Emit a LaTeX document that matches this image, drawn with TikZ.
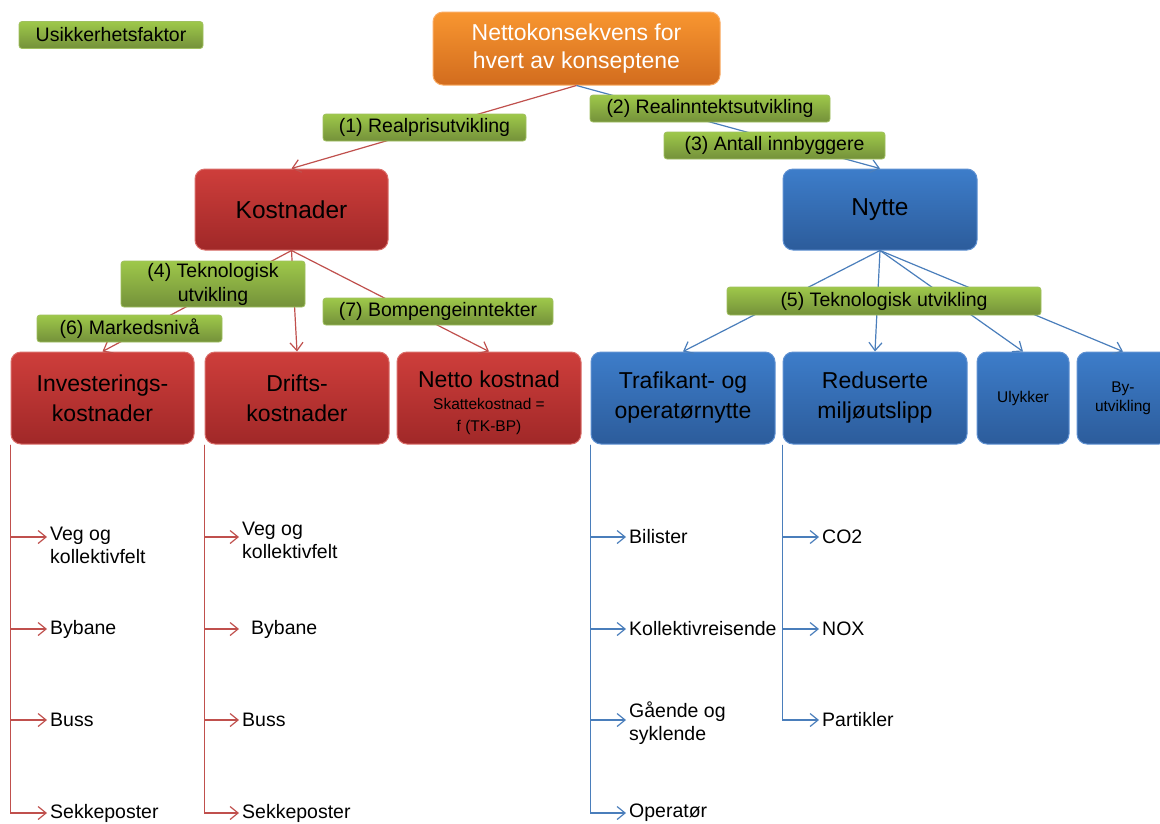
\documentclass[tikz,border=0pt]{standalone}
\usepackage{fontspec}
\setmainfont{Liberation Sans}
\usetikzlibrary{arrows.meta,calc}
\definecolor{gtop}{RGB}{158,200,74}
\definecolor{gbot}{RGB}{116,145,58}
\definecolor{gline}{RGB}{160,192,95}
\definecolor{rtop}{RGB}{206,62,59}
\definecolor{rbot}{RGB}{160,40,40}
\definecolor{rline}{RGB}{192,80,77}
\definecolor{rbord}{RGB}{218,110,106}
\definecolor{btop}{RGB}{61,125,202}
\definecolor{bbot}{RGB}{44,92,155}
\definecolor{bline}{RGB}{74,126,187}
\definecolor{bbord}{RGB}{95,145,210}
\definecolor{otop}{RGB}{248,150,48}
\definecolor{obot}{RGB}{210,108,30}
\definecolor{obord}{RGB}{250,172,100}
\begin{document}
\begin{tikzpicture}[x=1pt,y=-1pt,
  box/.style={rounded corners=10pt, line width=1pt, inner sep=0pt, align=center},
  redbox/.style={box, draw=rbord, top color=rtop, bottom color=rbot, minimum width=184pt, minimum height=92pt, font=\fontsize{23}{30}\selectfont},
  bluebox/.style={box, draw=bbord, top color=btop, bottom color=bbot, minimum width=184pt, minimum height=92pt, font=\fontsize{23}{30}\selectfont},
  smallblue/.style={bluebox, minimum width=92pt, font=\fontsize{15.5}{19}\selectfont},
  lab/.style={rounded corners=3pt, draw=gline, line width=0.8pt, top color=gtop, bottom color=gbot, inner sep=0pt, align=center, minimum height=27pt, font=\fontsize{19.5}{24}\selectfont},
  leaf/.style={anchor=west, inner xsep=3pt, inner ysep=0pt, align=left, font=\fontsize{19.5}{23}\selectfont},
  rl/.style={draw=rline, line width=1.2pt, -{Straight Barb[length=8pt,width=13pt]}},
  bl/.style={draw=bline, line width=1.2pt, -{Straight Barb[length=8pt,width=13pt]}}
]
\useasboundingbox (0,0) rectangle (1160,823);
\fill[white] (0,0) rectangle (1160,823);

% main boxes
\node[box, draw=obord, top color=otop, bottom color=obot, minimum width=287pt, minimum height=73pt, text=white, font=\fontsize{23}{28}\selectfont] (root) at (576.5,48.5) {Nettokonsekvens for\\hvert av konseptene};
\node[redbox, minimum width=193pt, minimum height=81pt, font=\fontsize{24.5}{30}\selectfont] (kost) at (291.5,209.5) {Kostnader};
\node[bluebox, minimum width=194pt, minimum height=81pt, font=\fontsize{24.5}{30}\selectfont] (nytte) at (880,209.5) {Nytte};

\node[redbox, minimum width=183pt] (inv) at (102.5,398) {Investerings-\\kostnader};
\node[redbox] (drift) at (297,398) {Drifts-\\kostnader};
\node[redbox] (netto) at (489,398) {\mbox{}\\[-4pt]Netto kostnad\\[-8pt]{\fontsize{15.5}{18}\selectfont Skattekostnad =}\\[-8pt]{\fontsize{15.5}{18}\selectfont f (TK-BP)}};
\node[bluebox] (traf) at (683,398) {Trafikant- og\\operatørnytte};
\node[bluebox] (redu) at (875,398) {Reduserte\\miljøutslipp};
\node[smallblue] (ulyk) at (1023,398) {Ulykker};
\node[smallblue] (byut) at (1123,398) {By-\\utvikling};

% connectors top
\draw[rl] (root.south) -- (kost.north);
\draw[bl] (root.south) -- (nytte.north);
\draw[rl] (kost.south) -- (inv.north);
\draw[rl] (kost.south) -- (drift.north);
\draw[rl] (kost.south) -- (netto.north);
\draw[bl] (nytte.south) -- (traf.north);
\draw[bl] (nytte.south) -- (redu.north);
\draw[bl] (nytte.south) -- (ulyk.north);
\draw[bl] (nytte.south) -- (byut.north);

% labels
\node[lab, minimum width=184pt] (usik) at (111,35) {Usikkerhetsfaktor};
\node[lab, minimum width=203pt] (l1) at (424.5,127.5) {(1) Realprisutvikling};
\node[lab, minimum width=240pt] (l2) at (710,108.5) {(2) Realinntektsutvikling};
\node[lab, minimum width=221pt] (l3) at (774.5,145.5) {(3) Antall innbyggere};
\node[lab, minimum width=184pt, minimum height=46pt] (l4) at (213,284) {(4) Teknologisk\\utvikling};
\node[lab, minimum width=185pt] (l6) at (129.5,328.5) {(6) Markedsnivå};
\node[lab, minimum width=230pt] (l7) at (438,311.5) {(7) Bompengeinntekter};
\node[lab, minimum width=314pt, minimum height=28pt] (l5) at (884,301) {(5) Teknologisk utvikling};

% leaves: Investeringskostnader
\node[leaf] (i1) at (47,545) {Veg og\\kollektivfelt};
\node[leaf] (i2) at (47,629) {Bybane};
\node[leaf] (i3) at (47,720) {Buss};
\node[leaf] (i4) at (47,813) {Sekkeposter};
\draw[rl] (inv.south west) |- ([yshift=8pt]i1.west);
\draw[rl] (inv.south west) |- (i2.west);
\draw[rl] (inv.south west) |- (i3.west);
\draw[rl] (inv.south west) |- (i4.west);

% leaves: Driftskostnader
\node[leaf] (d1) at (239,540) {Veg og\\kollektivfelt};
\node[leaf, inner xsep=12pt] (d2) at (239,629) {Bybane};
\node[leaf] (d3) at (239,720) {Buss};
\node[leaf] (d4) at (239,813) {Sekkeposter};
\draw[rl] (drift.south west) |- ([yshift=3pt]d1.west);
\draw[rl] (drift.south west) |- (d2.west);
\draw[rl] (drift.south west) |- (d3.west);
\draw[rl] (drift.south west) |- (d4.west);

% leaves: Trafikant- og operatørnytte
\node[leaf] (t1) at (626,537) {Bilister};
\node[leaf] (t2) at (626,629) {Kollektivreisende};
\node[leaf] (t3) at (626,723) {Gående og\\syklende};
\node[leaf] (t4) at (626,813) {Operatør};
\draw[bl] (traf.south west) |- (t1.west);
\draw[bl] (traf.south west) |- (t2.west);
\draw[bl] (traf.south west) |- ([yshift=3pt]t3.west);
\draw[bl] (traf.south west) |- (t4.west);

% leaves: Reduserte miljøutslipp
\node[leaf] (m1) at (819,537) {CO2};
\node[leaf] (m2) at (819,629) {NOX};
\node[leaf] (m3) at (819,720) {Partikler};
\draw[bl] (redu.south west) |- (m1.west);
\draw[bl] (redu.south west) |- (m2.west);
\draw[bl] (redu.south west) |- (m3.west);
\end{tikzpicture}
\end{document}
